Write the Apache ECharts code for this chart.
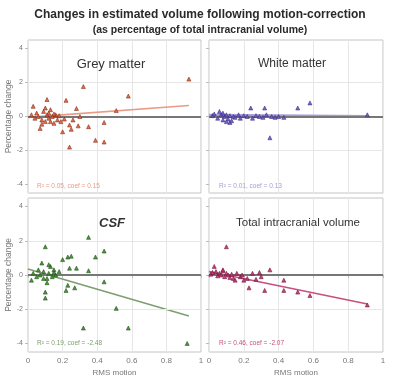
<!DOCTYPE html>
<html><head><meta charset="utf-8">
<script src="https://cdn.jsdelivr.net/npm/echarts@6/dist/echarts.min.js"></script>
<style>html,body{margin:0;padding:0;background:#fff}#c{width:400px;height:378px}</style>
</head><body><div id="c"></div>
<script>
const xTicks = [0, 0.2, 0.4, 0.6, 0.8, 1];
const yTicks = [-4, -2, 0, 2, 4];
const panelTitles = ['Grey matter', 'White matter', 'CSF', 'Total intracranial volume'];
const statTexts = ['R\u00b2 = 0.05, coef = 0.15', 'R\u00b2 = 0.01, coef = 0.13', 'R\u00b2 = 0.19, coef = -2.48', 'R\u00b2 = 0.46, coef = -2.07'];

const greyX = [0.93,0.32,0.58,0.22,0.11,0.03,0.28,0.51,0.07,0.20,0.24,0.25,0.29,0.35,0.44,0.39,0.44,0.24,0.30,0.19,0.02,0.04,0.05,0.06,0.08,0.09,0.10,0.10,0.11,0.12,0.12,0.13,0.14,0.15,0.16,0.17,0.18,0.08,0.13,0.15,0.21,0.26];
const greyY = [2.2,1.76,1.2,0.95,1.0,0.6,0.47,0.35,-0.7,-0.9,-0.5,-0.75,-0.55,-0.6,-0.35,-1.4,-1.5,-1.8,0.0,-0.3,0.1,-0.1,0.2,0.0,-0.2,0.3,0.5,-0.3,0.1,0.2,-0.1,0.4,0.0,-0.4,0.1,-0.2,0.05,-0.45,-0.3,0.15,-0.15,-0.2];
const whiteX = [0.91,0.58,0.51,0.32,0.24,0.35,0.06,0.12,0.43,0.02,0.03,0.05,0.07,0.08,0.09,0.10,0.11,0.12,0.14,0.15,0.17,0.18,0.20,0.22,0.25,0.27,0.29,0.31,0.33,0.36,0.38,0.40,0.13,0.10,0.08];
const whiteY = [0.1,0.8,0.5,0.5,0.5,-1.25,0.3,-0.35,-0.05,0.05,0.15,-0.1,0.1,-0.2,0.0,0.1,-0.15,0.05,0.0,-0.05,0.1,-0.1,0.05,0.0,-0.1,0.05,0.0,-0.05,0.1,0.0,-0.05,0.0,-0.25,-0.3,0.2];
const csfX = [0.35,0.10,0.44,0.25,0.23,0.39,0.20,0.08,0.24,0.28,0.35,0.02,0.11,0.44,0.23,0.22,0.27,0.10,0.10,0.51,0.32,0.58,0.92,0.03,0.05,0.06,0.07,0.09,0.11,0.12,0.13,0.14,0.15,0.16,0.18,0.12,0.09,0.15];
const csfY = [2.2,1.65,1.4,1.1,1.05,1.05,0.9,0.7,0.4,0.4,0.25,-0.3,-0.45,-0.4,-0.6,-0.9,-0.75,-1.0,-1.35,-1.95,-3.1,-3.1,-4.0,0.1,-0.1,0.3,0.0,0.2,-0.2,0.1,0.5,-0.1,0.3,0.0,0.2,0.6,-0.2,0.15];
const tivX = [0.10,0.03,0.35,0.23,0.32,0.43,0.51,0.58,0.91,0.20,0.43,0.01,0.02,0.04,0.05,0.06,0.07,0.08,0.09,0.10,0.11,0.12,0.13,0.14,0.16,0.18,0.19,0.22,0.25,0.27,0.29,0.30,0.15,0.08];
const tivY = [1.65,0.5,0.3,-0.75,-0.9,-0.9,-1.0,-1.2,-1.75,-0.3,-0.3,0.05,0.15,0.2,-0.05,0.1,0.0,0.25,-0.1,0.1,0.0,-0.15,0.05,-0.2,0.1,-0.1,0.0,-0.2,0.1,-0.25,0.15,-0.1,-0.3,0.3];

const fitX = [[0, 0.93], [0, 0.92], [0, 0.93], [0, 0.91]];
const fitY = [[-0.05, 0.65], [0.08, 0.0], [0.35, -2.4], [0.2, -1.7]];

const colors = ['#e0603a', '#6a58c8', '#3c8a2c', '#c03070'];
const edge = ['#7a2410', '#34267a', '#1a4a0e', '#681034'];
const lineColors = ['#eb9a86', '#a89ad8', '#7e9e70', '#c8507e'];
const ptsX = [greyX, whiteX, csfX, tivX];
const ptsY = [greyY, whiteY, csfY, tivY];

const grids = [
  {left: 28, top: 40, width: 173, height: 153},
  {left: 209, top: 40, width: 174, height: 153},
  {left: 28, top: 198, width: 173, height: 154},
  {left: 209, top: 198, width: 174, height: 154}
];
const FONT = 'Liberation Sans';
const chart = echarts.init(document.getElementById('c'), null, {renderer: 'canvas'});
const xAxes = [], yAxes = [], series = [];
grids.forEach((g, i) => {
  g.show = true; g.borderColor = '#c4c4c4'; g.borderWidth = 1; g.backgroundColor = '#fff';
  const bottom = i >= 2, left = i % 2 === 0;
  xAxes.push({
    gridIndex: i, type: 'value', min: 0, max: 1, interval: 0.2,
    axisLine: {show: false}, axisTick: {show: bottom, length: 3, lineStyle: {color: '#bbb'}},
    axisLabel: {show: bottom, color: '#777', fontSize: 8, fontFamily: FONT, margin: 5,
      formatter: v => String(+v.toFixed(1))},
    splitLine: {show: true, lineStyle: {color: '#e6e6e6', width: 1}},
    name: bottom ? 'RMS motion' : '', nameLocation: 'middle', nameGap: 17,
    nameTextStyle: {color: '#777', fontSize: 8, fontFamily: FONT}
  });
  yAxes.push({
    gridIndex: i, type: 'value', min: -4.5, max: 4.5,
    axisLine: {show: false},
    axisTick: {show: true, customValues: yTicks, length: 3, lineStyle: {color: '#bbb'}},
    axisLabel: {show: left, customValues: yTicks, color: '#777', fontSize: 7, fontFamily: FONT, margin: 5},
    splitLine: {show: false},
    name: left ? 'Percentage change' : '', nameLocation: 'middle', nameGap: 10,
    nameTextStyle: {color: '#777', fontSize: 8.5, fontFamily: FONT}
  });
  series.push({
    type: 'line', xAxisIndex: i, yAxisIndex: i, symbol: 'none', silent: true,
    data: fitX[i].map((x, k) => [x, fitY[i][k]]),
    lineStyle: {color: lineColors[i], width: i === 1 ? 3 : 1.6}, z: 4,
    markLine: {silent: true, symbol: 'none', label: {show: false},
      data: [
        {yAxis: 2, lineStyle: {color: '#e6e6e6', width: 1, type: 'solid'}},
        {yAxis: -2, lineStyle: {color: '#e6e6e6', width: 1, type: 'solid'}},
        {yAxis: 0, lineStyle: {color: '#777', width: 2.2, type: 'solid'}}
      ]}
  });
  series.push({
    type: 'scatter', xAxisIndex: i, yAxisIndex: i, symbol: 'triangle', symbolSize: 4,
    data: ptsX[i].map((x, k) => [x, ptsY[i][k]]),
    itemStyle: {color: colors[i], borderColor: edge[i], borderWidth: 0.6, opacity: 0.9}, z: 5
  });
});

const titleCenters = [[111, 64], [292, 64], [112, 223], [298, 223]];
const titleSizes = [13, 12, 13, 11.5];
const graphics = [];
titleCenters.forEach((c, i) => {
  graphics.push({type: 'text', x: c[0], y: c[1], z: 10,
    style: {text: panelTitles[i], fill: '#333', font: (i === 2 ? 'italic bold ' : '') + titleSizes[i] + 'px "' + FONT + '"', textAlign: 'center', textVerticalAlign: 'middle'}});
});
const statPos = [[37, 186], [219, 186], [37, 343], [219, 343]];
statPos.forEach((p, i) => {
  graphics.push({type: 'text', x: p[0], y: p[1], z: 10,
    style: {text: statTexts[i], fill: lineColors[i], font: '6.5px "' + FONT + '"', textAlign: 'left', textVerticalAlign: 'middle'}});
});

chart.setOption({
  animation: false,
  backgroundColor: '#fff',
  title: {
    text: 'Changes in estimated volume following motion-correction',
    subtext: '(as percentage of total intracranial volume)',
    left: 'center', top: 4, itemGap: 4,
    textStyle: {fontSize: 12, fontWeight: 'bold', color: '#2a2a2a', fontFamily: FONT},
    subtextStyle: {fontSize: 10.5, fontWeight: 'bold', color: '#2a2a2a', fontFamily: FONT}
  },
  grid: grids, xAxis: xAxes, yAxis: yAxes, series: series, graphic: graphics
});
</script></body></html>
